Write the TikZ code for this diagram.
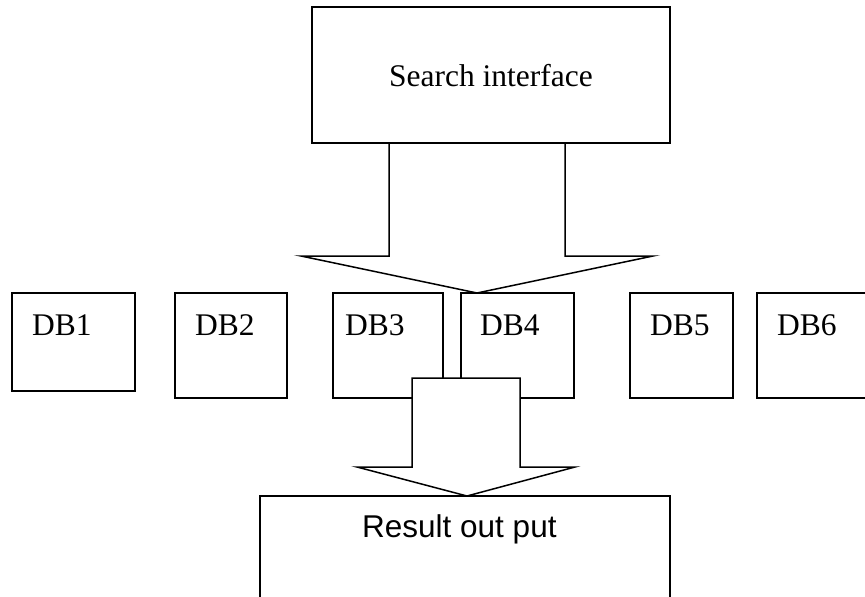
\documentclass[tikz,border=0pt]{standalone}
\usepackage{fontspec}
\setmainfont{Liberation Serif}
\newfontfamily\arialfont{Liberation Sans}
\begin{document}
\begin{tikzpicture}[x=1pt,y=-1pt,
  box/.style={draw=black,line width=1.5pt,fill=white,rectangle,inner sep=0pt,outer sep=0pt,anchor=north west},
  lbl/.style={inner sep=0pt,font=\fontsize{31.5}{36}\selectfont},
  slbl/.style={inner sep=0pt,font=\arialfont\fontsize{31.5}{36}\selectfont},
  blockarrow/.style={draw=black,line width=1.5pt,fill=white,line join=miter}]
\clip (0,0) rectangle (865,597);
\fill[white] (0,0) rectangle (865,597);
% upper block arrow
\draw[blockarrow] (389,143) -- (389,256) -- (301,256) -- (477,293) -- (653,256) -- (565,256) -- (565,143) -- cycle;
% search interface
\node[box,minimum width=358pt,minimum height=136pt] (search) at (312,7) {};
\node[lbl,anchor=base] (searchtxt) at (491,86) {Search interface};
% databases
\node[box,minimum width=123pt,minimum height=98pt] (db1) at (12,293) {};
\node[box,minimum width=112pt,minimum height=105pt] (db2) at (175,293) {};
\node[box,minimum width=110pt,minimum height=105pt] (db3) at (333,293) {};
\node[box,minimum width=113pt,minimum height=105pt] (db4) at (461,293) {};
\node[box,minimum width=103pt,minimum height=105pt] (db5) at (630,293) {};
\node[box,minimum width=120pt,minimum height=105pt] (db6) at (757,293) {};
\node[lbl,anchor=base west] (t1) at (32,335) {DB1};
\node[lbl,anchor=base west] (t2) at (195,335) {DB2};
\node[lbl,anchor=base west] (t3) at (345,335) {DB3};
\node[lbl,anchor=base west] (t4) at (480,335) {DB4};
\node[lbl,anchor=base west] (t5) at (650,335) {DB5};
\node[lbl,anchor=base west] (t6) at (777,335) {DB6};
% lower block arrow
\draw[blockarrow] (412,378) -- (520,378) -- (520,467) -- (575,467) -- (467,496) -- (357,467) -- (412,467) -- cycle;
% result
\node[box,minimum width=410pt,minimum height=120pt] (result) at (260,496) {};
\node[slbl,anchor=base west] (resulttxt) at (362,537) {Result out put};
\end{tikzpicture}
\end{document}
